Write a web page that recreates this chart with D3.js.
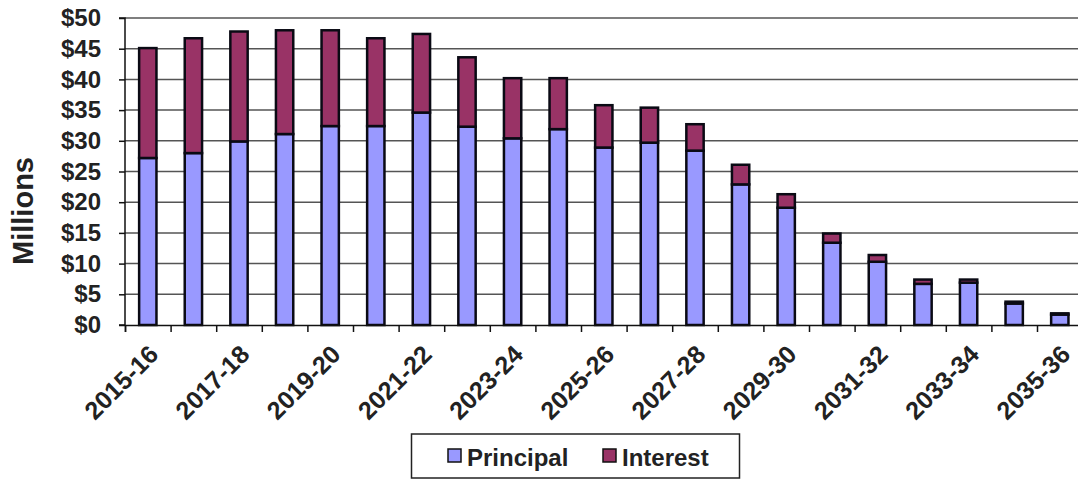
<!DOCTYPE html>
<html>
<head>
<meta charset="utf-8">
<script src="https://cdn.jsdelivr.net/npm/d3@7"></script>
<style>
  body { margin: 0; background: #fff; }
  svg { display: block; font-family: "Liberation Sans", Arial, sans-serif; font-weight: bold; }
</style>
</head>
<body>
<div id="chart"></div>
<script>
/*Chart data (millions of dollars)*/
const years = ["2015-16","2016-17","2017-18","2018-19","2019-20","2020-21","2021-22","2022-23",
               "2023-24","2024-25","2025-26","2026-27","2027-28","2028-29","2029-30","2030-31",
               "2031-32","2032-33","2033-34","2034-35","2035-36"];
const principal = [27.2, 28.0, 29.9, 31.1, 32.4, 32.4, 34.6, 32.3, 30.4, 31.9, 28.9,
                   29.7, 28.4, 22.9, 19.1, 13.4, 10.3, 6.7, 6.9, 3.5, 1.7];
const interest  = [17.9, 18.7, 17.9, 16.9, 15.6, 14.3, 12.8, 11.3, 9.8, 8.3, 6.9,
                   5.7, 4.3, 3.2, 2.2, 1.5, 1.1, 0.7, 0.5, 0.3, 0.2];
const yTicks = [0, 5, 10, 15, 20, 25, 30, 35, 40, 45, 50];
const seriesNames = ["Principal", "Interest"];

const width = 1078, height = 480;
const margin = {left: 125, top: 18};
const plotHeight = 307;
const step = 45.6;
const plotWidth = step * years.length;
const colors = {Principal: "#9999ff", Interest: "#993366"};

const rows = years.map((y, i) => ({year: y, Principal: principal[i], Interest: interest[i]}));
const stacked = d3.stack().keys(seriesNames)(rows);

const svg = d3.select("#chart").append("svg")
  .attr("width", width)
  .attr("height", height);

const x = d3.scaleBand()
  .domain(years)
  .range([margin.left, margin.left + plotWidth])
  .paddingInner(0.62)
  .paddingOuter(0.31);

const y = d3.scaleLinear()
  .domain([0, 50])
  .range([margin.top + plotHeight, margin.top]);

/*gridlines*/
svg.append("g")
  .selectAll("line")
  .data(yTicks.filter(t => t > 0))
  .enter().append("line")
  .attr("x1", margin.left)
  .attr("x2", width)
  .attr("y1", d => y(d))
  .attr("y2", d => y(d))
  .attr("stroke", "#555")
  .attr("stroke-width", 1.5);

/*stacked bars*/
svg.append("g")
  .selectAll("g")
  .data(stacked)
  .enter().append("g")
  .attr("fill", d => colors[d.key])
  .selectAll("rect")
  .data(d => d)
  .enter().append("rect")
  .attr("x", d => x(d.data.year))
  .attr("width", x.bandwidth())
  .attr("y", d => y(d[1]))
  .attr("height", d => y(d[0]) - y(d[1]))
  .attr("stroke", "#0a0a14")
  .attr("stroke-width", 2.5);

/*y axis*/
const yAxis = d3.axisLeft(y)
  .tickValues(yTicks)
  .tickSize(6)
  .tickPadding(18)
  .tickFormat(d => "$" + d);

const yG = svg.append("g")
  .attr("transform", "translate(" + margin.left + ",0)")
  .call(yAxis);
yG.select(".domain").attr("stroke", "#111").attr("stroke-width", 1.5).attr("d", "M-6," + y(0) + "H0V" + y(50) + "H-6");
yG.selectAll(".tick line").attr("stroke", "#111").attr("stroke-width", 1.5);
yG.selectAll("text")
  .attr("font-size", 24)
  .attr("font-weight", "bold")
  .attr("font-family", "Liberation Sans, Arial, sans-serif")
  .attr("fill", "#222");

/*x axis: tick marks at category boundaries*/
const xEdge = d3.scaleLinear()
  .domain([0, years.length])
  .range([margin.left, margin.left + plotWidth]);

const xTickG = svg.append("g")
  .attr("transform", "translate(0," + y(0) + ")")
  .call(d3.axisBottom(xEdge).tickValues(d3.range(years.length + 1)).tickSize(7).tickFormat(""));
xTickG.select(".domain").attr("stroke", "#111").attr("stroke-width", 1.5);
xTickG.selectAll(".tick line").attr("stroke", "#111").attr("stroke-width", 1.5);

/*x labels every other year, rotated*/
const xLabelG = svg.append("g")
  .attr("transform", "translate(0," + y(0) + ")")
  .call(d3.axisBottom(x).tickValues(years.filter((d, i) => i % 2 === 0)).tickSize(0));
xLabelG.select(".domain").remove();
xLabelG.selectAll("text")
  .attr("font-size", 25)
  .attr("font-weight", "bold")
  .attr("font-family", "Liberation Sans, Arial, sans-serif")
  .attr("fill", "#222")
  .attr("text-anchor", "end")
  .attr("dy", null)
  .attr("y", 0)
  .attr("transform", "translate(12,31) rotate(-45)");

/*y axis title*/
svg.append("text")
  .attr("transform", "translate(33,211) rotate(-90)")
  .attr("text-anchor", "middle")
  .attr("font-size", 29)
  .attr("fill", "#222")
  .text("Millions");

/*legend*/
const legend = svg.append("g").attr("id", "legend");
legend.append("rect")
  .attr("x", 411.5).attr("y", 434)
  .attr("width", 328).attr("height", 44)
  .attr("fill", "#fff")
  .attr("stroke", "#222")
  .attr("stroke-width", 1.5);

const legendX = [448, 603];
seriesNames.forEach((name, i) => {
  legend.append("rect")
    .attr("x", legendX[i]).attr("y", 449)
    .attr("width", 13).attr("height", 13)
    .attr("fill", colors[name])
    .attr("stroke", "#111")
    .attr("stroke-width", 1.5);
  legend.append("text")
    .attr("x", legendX[i] + 19)
    .attr("y", 466)
    .attr("font-size", 24)
    .attr("fill", "#222")
    .text(name);
});
</script>
</body>
</html>
